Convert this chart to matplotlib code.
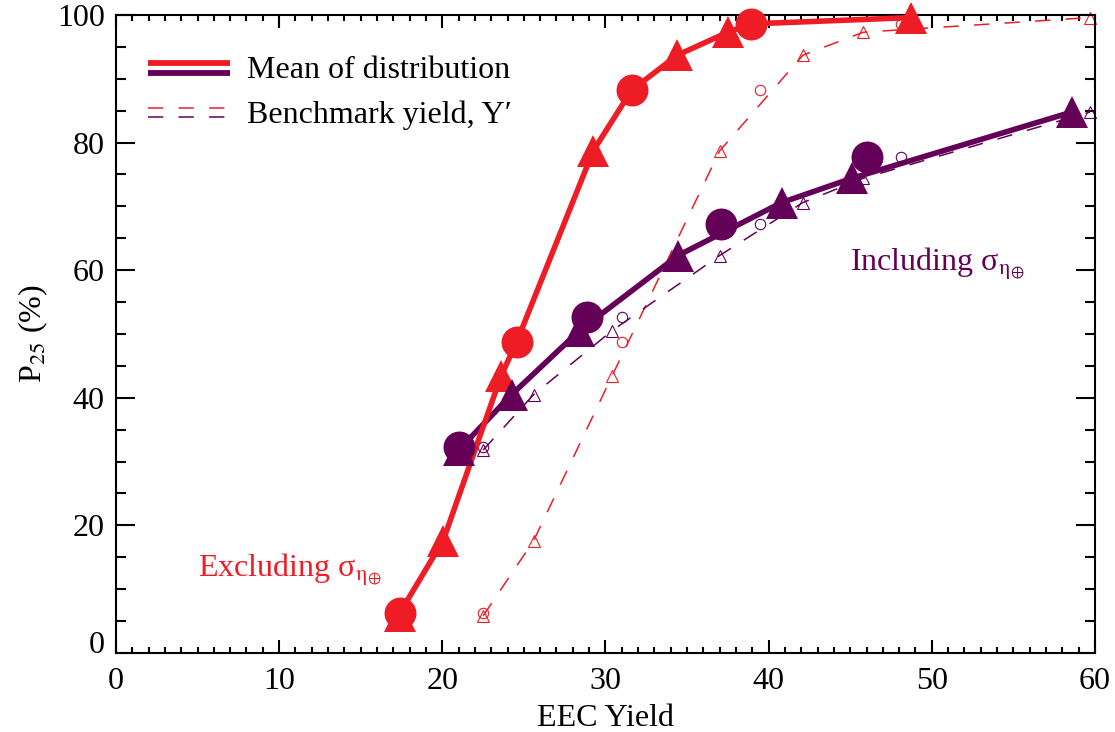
import numpy as np
import matplotlib
matplotlib.use('Agg')
import matplotlib.pyplot as plt
from matplotlib.ticker import MultipleLocator

plt.rcParams['font.family'] = ['Liberation Serif', 'DejaVu Serif']
plt.rcParams['mathtext.fontset'] = 'stix'

RED = '#ee1c25'
PURPLE = '#650058'

# P25 (%) of each sample (same for the mean and the benchmark curves)
p25_ex_tri = [5.8, 17.6, 43.4, 78.7, 93.7, 97.3, 99.6]
p25_ex_circ = [6.3, 48.7, 88.2, 98.6]
p25_in_tri = [31.8, 40.5, 50.5, 62.3, 70.6, 74.4, 84.8]
p25_in_circ = [32.3, 52.7, 67.2, 77.7]

# EEC yield, mean of distribution
yld_ex_tri = [17.4, 20.05, 23.6, 29.25, 34.4, 37.5, 48.75]
yld_ex_circ = [17.4, 24.55, 31.6, 38.9]
yld_in_tri = [21.0, 24.25, 28.4, 34.45, 40.8, 45.1, 58.6]
yld_in_circ = [21.0, 28.9, 37.1, 46.0]

# benchmark yield Y'
bench_tri = [22.5, 25.6, 30.4, 37.0, 42.1, 45.8, 59.7]
bench_circ = [22.5, 31.0, 39.5, 48.1]

xticks = [0, 10, 20, 30, 40, 50, 60]
yticks = [0, 20, 40, 60, 80, 100]

FS = 23

fig = plt.figure(figsize=(11.15, 7.32), dpi=100)
ax = fig.add_axes([0.104, 0.108, 0.878, 0.8715])

# benchmark (dashed, through triangles)
for xt, yt, xc, yc, col in [(bench_tri, p25_ex_tri, bench_circ, p25_ex_circ, RED),
                            (bench_tri, p25_in_tri, bench_circ, p25_in_circ, PURPLE)]:
    ax.plot(xt, yt, color=col, lw=1.1, dashes=(10, 10), zorder=2)
    ax.plot(xt, yt, ls='none', marker='^', ms=8, mfc='none', mec=col, mew=0.8,
            zorder=2, clip_on=False)
    ax.plot(xc, yc, ls='none', marker='o', ms=7.5, mfc='none', mec=col, mew=0.8,
            zorder=2, clip_on=False)

# mean of distribution (thick solid)
x = np.array(yld_ex_tri + yld_ex_circ)
y = np.array(p25_ex_tri + p25_ex_circ)
o = np.lexsort((y, x))
ax.plot(yld_in_tri, p25_in_tri, color=PURPLE, lw=4, zorder=3, solid_capstyle='butt')
ax.plot(x[o], y[o], color=RED, lw=4, zorder=3, solid_capstyle='butt')
ax.plot(yld_ex_tri, p25_ex_tri, ls='none', marker='^', ms=23, color=RED, mew=0, zorder=4, clip_on=False)
ax.plot(yld_ex_circ, p25_ex_circ, ls='none', marker='o', ms=23, color=RED, mew=0, zorder=4, clip_on=False)
ax.plot(yld_in_tri, p25_in_tri, ls='none', marker='^', ms=23, color=PURPLE, mew=0, zorder=5, clip_on=False)
ax.plot(yld_in_circ, p25_in_circ, ls='none', marker='o', ms=23, color=PURPLE, mew=0, zorder=5, clip_on=False)

# legend drawn by hand (two colours stacked)
tr = ax.transAxes
ax.plot([0.033, 0.116], [0.925, 0.925], transform=tr, color=RED, lw=4.2, solid_capstyle='butt')
ax.plot([0.033, 0.116], [0.909, 0.909], transform=tr, color=PURPLE, lw=4.2, solid_capstyle='butt')
ax.plot([0.033, 0.112], [0.854, 0.854], transform=tr, color=RED, lw=1.1, dashes=(10, 10))
ax.plot([0.033, 0.112], [0.840, 0.840], transform=tr, color=PURPLE, lw=1.1, dashes=(10, 10))
ax.text(0.134, 0.901, 'Mean of distribution', transform=tr, fontsize=FS, va='baseline')
ax.text(0.134, 0.831, 'Benchmark yield, Y\u2032', transform=tr, fontsize=FS, va='baseline')

sig = r'σ$_{\mathrm{\eta}_{\oplus}}$'
ax.text(45.0, 59.9, 'Including ' + sig, color=PURPLE, fontsize=FS, va='baseline')
ax.text(5.0, 12.0, 'Excluding ' + sig, color=RED, fontsize=FS, va='baseline')

ax.set_xlim(0, 60)
ax.set_ylim(0, 100)
ax.set_xticks(xticks)
ax.set_yticks(yticks)
ax.xaxis.set_minor_locator(MultipleLocator(1))
ax.yaxis.set_minor_locator(MultipleLocator(5))
ax.tick_params(which='both', direction='in', top=True, right=True, width=1.5,
               labelsize=FS, color='black')
ax.tick_params(axis='x', which='major', length=9.3, pad=10)
ax.tick_params(axis='x', which='minor', length=4.5)
ax.tick_params(axis='y', which='major', length=13.5, pad=8)
ax.tick_params(axis='y', which='minor', length=7)
for s in ax.spines.values():
    s.set_linewidth(1.5)

ax.set_xlabel('EEC Yield', fontsize=FS, labelpad=6)
ax.set_ylabel(r'P$_{25}$ (%)', fontsize=FS, labelpad=5)

# IDL-style: lowest y label sits above the axis
ax.yaxis.get_major_ticks()[0].label1.set_va('baseline')

fig.savefig('out.png', dpi=100)
